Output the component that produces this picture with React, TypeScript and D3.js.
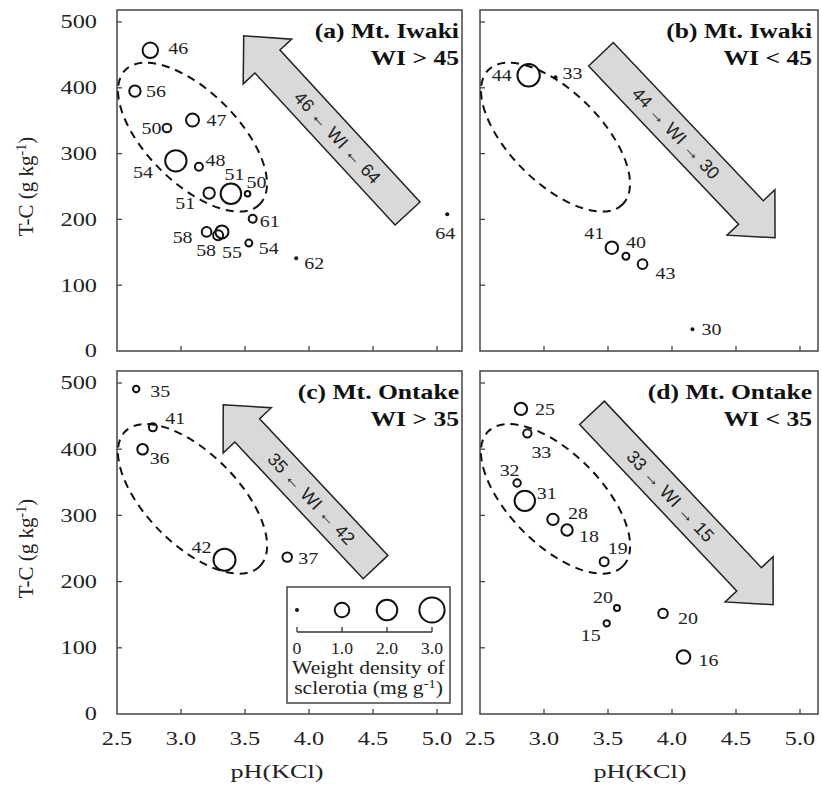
import React from 'react';
import * as d3 from 'd3';

// (a) Mt. Iwaki, WI > 45
const phA = [2.76, 2.64, 2.89, 3.09, 2.96, 3.14, 3.22, 3.39, 3.52, 3.56, 3.2, 3.29, 3.32, 3.53, 3.9, 5.08];
const tcA = [457, 395, 339, 351, 289, 280, 240, 239, 239, 201, 181, 176, 181, 164, 141, 208];
const densA = [1.12, 0.61, 0.35, 0.8, 2.16, 0.3, 0.61, 2.0, 0.15, 0.3, 0.44, 0.47, 0.8, 0.23, 0.03, 0.03];
const wiA = [46, 56, 50, 47, 54, 48, 51, 51, 50, 61, 58, 58, 55, 54, 62, 64];

// (b) Mt. Iwaki, WI < 45
const phB = [2.88, 3.09, 3.53, 3.64, 3.77, 4.16];
const tcB = [419, 416, 157, 144, 132, 33];
const densB = [2.37, 0.04, 0.73, 0.23, 0.44, 0.03];
const wiB = [44, 33, 41, 40, 43, 30];

// (c) Mt. Ontake, WI > 35
const phC = [2.65, 2.78, 2.7, 3.34, 3.83];
const tcC = [491, 433, 400, 233, 237];
const densC = [0.19, 0.3, 0.53, 2.29, 0.42];
const wiC = [35, 41, 36, 42, 37];

// (d) Mt. Ontake, WI < 35
const phD = [2.82, 2.87, 2.79, 2.85, 3.07, 3.18, 3.47, 3.57, 3.49, 3.93, 4.09];
const tcD = [461, 424, 349, 322, 294, 278, 230, 160, 137, 152, 86];
const densD = [0.72, 0.33, 0.26, 1.97, 0.61, 0.61, 0.38, 0.17, 0.19, 0.42, 0.87];
const wiD = [25, 33, 32, 31, 28, 18, 19, 20, 15, 20, 16];

const xTicks = [2.5, 3.0, 3.5, 4.0, 4.5, 5.0];
const yTicks = [0, 100, 200, 300, 400, 500];
const legendValues = [0, 1, 2, 3];

const titles = [
  ['(a) Mt. Iwaki', 'WI > 45'],
  ['(b) Mt. Iwaki', 'WI < 45'],
  ['(c) Mt. Ontake', 'WI > 35'],
  ['(d) Mt. Ontake', 'WI < 35'],
];
const arrowTexts = ['46 ← WI ← 64', '44 → WI → 30', '35 ← WI ← 42', '33 → WI → 15'];
// arrow tail / tip in data units (pH, T-C)
const arrowTail = [[4.77, 209], [3.445, 451], [4.52, 222], [3.375, 455]];
const arrowTip = [[3.49, 479], [4.805, 172], [3.33, 467], [4.79, 165]];
// dashed ellipse: ends of the major axis in data units, minor/major ratio
const ellipseEnds = [[2.565, 427], [3.615, 223]];
const ellipseRatio = 0.48;

// label offsets (px) from each circle, kept apart from the data
const labelA = [[28, -2], [21, 0], [-15.5, 0], [24, 0], [-33, 11], [16.5, -7], [-24, 10], [3.5, -20], [9, -12], [17, 2], [-24, 5], [-12, 15], [10, 20], [20, 5], [18, 5], [-2, 19]];
const labelB = [[-27, 0], [17, -4], [-17.5, -15], [10, -14], [23, 9], [19, 0]];
const labelC = [[24, 2], [22.5, -9], [17, 9], [-23, -13], [21, 1]];
const labelD = [[24, 0], [14, 19], [-7.5, -13], [22, -8], [25, -7], [22, 6], [13.5, -14], [-14, -11], [-16, 12], [25, 4], [25, 3]];

const panels = [
  { ph: phA, tc: tcA, dens: densA, wi: wiA, lab: labelA, col: 0, row: 0 },
  { ph: phB, tc: tcB, dens: densB, wi: wiB, lab: labelB, col: 1, row: 0 },
  { ph: phC, tc: tcC, dens: densC, wi: wiC, lab: labelC, col: 0, row: 1 },
  { ph: phD, tc: tcD, dens: densD, wi: wiD, lab: labelD, col: 1, row: 1 },
];

const W = 822;
const H = 798;
const colX = [117, 480];
const colRight = [462, 818];
const titleRight = [459, 812];
const rowY = [[10, 351], [371, 714]];
const serif = 'Liberation Serif';
const sans = 'Liberation Sans';
const ink = '#222';
const frame = '#444';

const rScale = d3.scaleSqrt().domain([0, 3]).range([0, 12.6]);

const Txt = ({ x, y, sx = 1, size = 17, anchor = 'middle', weight = 'normal', family = serif, fill = ink, dy = '0.35em', children }: any) => (
  <text transform={`translate(${x},${y}) scale(${sx},1)`} textAnchor={anchor}
    fontWeight={weight} style={{ fontFamily: family, fontSize: size }} fill={fill} dy={dy}>{children}</text>
);

const Dot = ({ cx, cy, d }: any) => {
  if (d < 0.08) return <circle cx={cx} cy={cy} r={2} fill="#111" />;
  return <circle cx={cx} cy={cy} r={rScale(d)} fill="none" stroke="#111" strokeWidth={2} />;
};

const arrowPath = (S: number[], T: number[]) => {
  const dx = T[0] - S[0], dy = T[1] - S[1];
  const L = Math.hypot(dx, dy);
  const u = [dx / L, dy / L], n = [-u[1], u[0]];
  const hl = 35, hw = 33, sw = 17;
  const B = [T[0] - u[0] * hl, T[1] - u[1] * hl];
  const p = (b: number[], k: number) => `${b[0] + n[0] * k},${b[1] + n[1] * k}`;
  return `M${p(S, sw)}L${p(B, sw)}L${p(B, hw)}L${T[0]},${T[1]}L${p(B, -hw)}L${p(B, -sw)}L${p(S, -sw)}Z`;
};

const Legend = () => {
  const lx = 287, ly = 587, lw = 163, lh = 116;
  const s = d3.scaleLinear().domain([0, 3]).range([lx + 10, lx + 145]);
  return (
    <g>
      <rect x={lx} y={ly} width={lw} height={lh} fill="#fff" stroke={frame} strokeWidth={1.5} />
      {legendValues.map(v => (
        <g key={v}>
          <Dot cx={s(v)} cy={ly + 23} d={v === 0 ? 0 : v} />
          <line x1={s(v)} x2={s(v)} y1={ly + 45} y2={ly + 40} stroke="#333" strokeWidth={1.3} />
          <Txt x={s(v)} y={ly + 67} dy="0" size={16} sx={1.1}>{v === 0 ? '0' : v.toFixed(1)}</Txt>
        </g>
      ))}
      <line x1={s(0)} x2={s(3)} y1={ly + 45} y2={ly + 45} stroke="#333" strokeWidth={1.3} />
      <Txt x={lx + lw / 2} y={ly + 87} dy="0" size={18} sx={1.2}>Weight density of</Txt>
      <text transform={`translate(${lx + lw / 2},${ly + 107}) scale(1.2,1)`} textAnchor="middle"
        style={{ fontFamily: serif, fontSize: 18 }} fill={ink}>
        sclerotia (mg g<tspan dy="-6" style={{ fontSize: 12 }}>-1</tspan><tspan dy="6">)</tspan>
      </text>
    </g>
  );
};

const Panel = ({ p, i }: any) => {
  const x0 = colX[p.col], x1 = colRight[p.col];
  const [y0, y1] = rowY[p.row];
  const x = d3.scaleLinear().domain([2.5, 5.0]).range([x0, x0 + 320]);
  const y = d3.scaleLinear().domain([0, 500]).range([y1, y0 + 12]);

  const S = [x(arrowTail[i][0]), y(arrowTail[i][1])];
  const T = [x(arrowTip[i][0]), y(arrowTip[i][1])];
  const dx = T[0] - S[0], dy = T[1] - S[1];
  const L = Math.hypot(dx, dy);
  const B = [T[0] - dx / L * 35, T[1] - dy / L * 35];
  const mid = [(S[0] + B[0]) / 2, (S[1] + B[1]) / 2];
  const v = dx < 0 ? [-dx, -dy] : [dx, dy];
  const ang = Math.atan2(v[1], v[0]) * 180 / Math.PI;

  const e1 = [x(ellipseEnds[0][0]), y(ellipseEnds[0][1])];
  const e2 = [x(ellipseEnds[1][0]), y(ellipseEnds[1][1])];
  const ecx = (e1[0] + e2[0]) / 2, ecy = (e1[1] + e2[1]) / 2;
  const ea = Math.hypot(e2[0] - e1[0], e2[1] - e1[1]) / 2;
  const eAng = Math.atan2(e2[1] - e1[1], e2[0] - e1[0]) * 180 / Math.PI;

  return (
    <g>
      <rect x={x0} y={y0} width={x1 - x0} height={y1 - y0} fill="none" stroke={frame} strokeWidth={1.5} />
      {yTicks.slice(1).map(t => (
        <line key={t} x1={x0} x2={x0 + 5} y1={y(t)} y2={y(t)} stroke={frame} strokeWidth={1.3} />
      ))}
      {xTicks.slice(1).map(t => (
        <line key={t} x1={x(t)} x2={x(t)} y1={y1} y2={y1 - 5} stroke={frame} strokeWidth={1.3} />
      ))}
      <path d={arrowPath(S, T)} fill="#d9d9d9" stroke="#222" strokeWidth={1.5} />
      <text transform={`translate(${mid[0]},${mid[1]}) rotate(${ang})`} textAnchor="middle" dy="0.35em"
        style={{ fontFamily: sans, fontSize: 18 }} fill={ink}>{arrowTexts[i]}</text>
      <ellipse cx={ecx} cy={ecy} rx={ea} ry={ea * ellipseRatio} transform={`rotate(${eAng},${ecx},${ecy})`}
        fill="none" stroke="#111" strokeWidth={2} strokeDasharray="8 6" />
      {p.ph.map((ph: number, k: number) => (
        <g key={k}>
          <Dot cx={x(ph)} cy={y(p.tc[k])} d={p.dens[k]} />
          <Txt x={x(ph) + p.lab[k][0]} y={y(p.tc[k]) + p.lab[k][1]} sx={1.14} size={17.5}>{p.wi[k]}</Txt>
        </g>
      ))}
      <Txt x={titleRight[p.col]} y={y0 + 28} anchor="end" weight="bold" size={20} sx={1.28} dy="0" fill="#111">{titles[i][0]}</Txt>
      <Txt x={titleRight[p.col]} y={y0 + 55} anchor="end" weight="bold" size={20} sx={1.28} dy="0" fill="#111">{titles[i][1]}</Txt>
      {p.col === 0 && yTicks.map(t => (
        <Txt key={t} x={97} y={y(t)} anchor="end" size={18} sx={1.35}>{t}</Txt>
      ))}
      {p.col === 0 && (
        <text transform={`translate(26,${y(250)}) rotate(-90)`} textAnchor="middle" dy="0.35em"
          style={{ fontFamily: serif, fontSize: 21 }} fill={ink}>
          T-C (g kg<tspan dy="-7" style={{ fontSize: 14 }}>-1</tspan><tspan dy="7">)</tspan>
        </text>
      )}
      {p.row === 1 && xTicks.map(t => (
        <Txt key={t} x={x(t)} y={745} dy="0" size={18} sx={1.35}>{t.toFixed(1)}</Txt>
      ))}
      {p.row === 1 && (
        <Txt x={x(3.75)} y={778} dy="0" size={19} sx={1.38}>pH(KCl)</Txt>
      )}
      {i === 2 && <Legend />}
    </g>
  );
};

export default function App() {
  return (
    <svg width={W} height={H} style={{ position: 'absolute', left: 0, top: 0, background: '#fff' }}>
      <rect width={W} height={H} fill="#fff" />
      {panels.map((p, i) => <Panel key={i} p={p} i={i} />)}
    </svg>
  );
}
